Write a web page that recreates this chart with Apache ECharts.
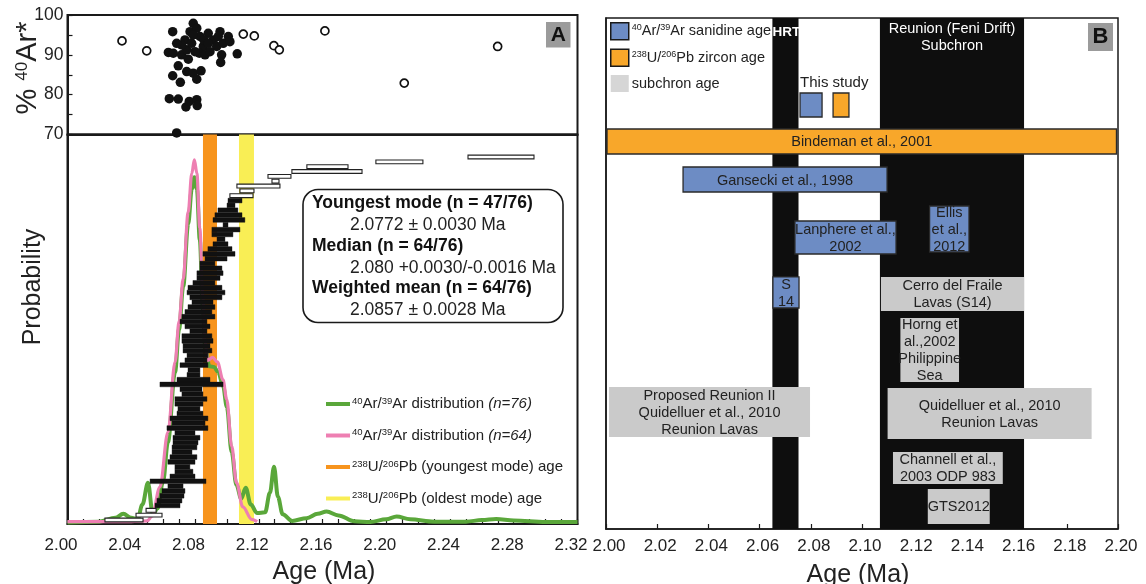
<!DOCTYPE html>
<html><head><meta charset="utf-8">
<script src="https://cdn.jsdelivr.net/npm/echarts@6/dist/echarts.min.js"></script>
<style>html,body{margin:0;padding:0;background:#fff}#c{width:1146px;height:584px}</style>
</head><body><div id="c"></div>
<script>
// ---------- Panel A, top: % 40Ar* of each crystal ----------
const usedAge = [2.0660,2.0633,2.0685,2.0660,2.0708,2.0695,2.0639,2.0695,2.0743,2.0764,2.0811,2.0814,2.0748,2.0789,2.0811,2.0838,2.0716,2.0748,2.0789,2.0769,2.0811,2.0737,2.0716,2.0779,2.0831,2.0852,2.0827,2.0863,2.0883,2.0915,2.0957,2.0936,2.0977,2.1009,2.1019,2.0967,2.0961,2.1065,2.0894,2.0856,2.0800,2.0758,2.0883,2.0789,2.0946,2.0685,2.0664];
const usedAr  = [95.8,90.6,70.4,84.75,83.1,87.25,79.0,78.9,76.9,78.3,78.75,77.25,85.8,85.4,83.9,86.0,90.0,91.25,97.9,95.8,96.7,93.75,92.5,92.9,94.6,92.1,90.4,90.0,95.4,93.75,95.8,92.1,92.9,94.6,93.3,90.0,88.1,90.25,90.8,93.75,90.8,88.9,92.9,95.0,94.6,92.9,90.4];
const exclAge = [2.0342,2.0497,2.1103,2.1172,2.1295,2.1329,2.1615,2.2113,2.2699];
const exclAr  = [93.5,91.0,95.2,94.75,92.3,91.25,96.0,82.9,92.1];

// ---------- Panel A, bottom: probability density curves ----------
const pdf76Age  = [2.000,2.020,2.030,2.035,2.040,2.044,2.047,2.0505,2.0535,2.0565,2.060,2.063,2.0675,2.0700,2.0726,2.0757,2.0780,2.0796,2.0812,2.0830,2.0850,2.0865,2.0890,2.0920,2.0945,2.0976,2.1000,2.1030,2.1060,2.1090,2.1118,2.1150,2.1190,2.1240,2.1270,2.1296,2.1320,2.1350,2.1410,2.1500,2.1570,2.1626,2.1700,2.1800,2.1900,2.2000,2.2065,2.2150,2.2300,2.2500,2.2600,2.2690,2.2800,2.3000,2.3200];
const pdf76Prob = [0.4,0.6,1.6,2.6,1.6,1.3,5.0,10.6,2.5,4.0,11.0,21.0,39.0,50.0,61.0,77.0,86.0,89.0,86.0,73.0,55.0,45.0,40.5,40.3,39.0,35.5,30.0,18.5,10.0,6.5,9.3,5.0,2.8,3.0,8.0,14.7,7.0,2.5,0.8,1.5,2.6,3.2,2.2,0.7,0.5,1.2,1.9,1.2,0.6,0.6,1.0,1.3,0.9,0.5,0.5];
const pdf64Age  = [2.000,2.020,2.040,2.050,2.053,2.058,2.063,2.0675,2.0700,2.0726,2.0757,2.0780,2.0796,2.0812,2.0830,2.0850,2.0862,2.0880,2.0910,2.0940,2.0976,2.0999,2.1030,2.1060,2.1100,2.1156,2.1190];
const pdf64Prob = [0.6,0.6,0.6,0.8,2.0,9.5,23.5,41.6,52.0,63.0,80.0,90.0,93.5,90.0,76.0,58.0,47.0,42.0,42.8,41.6,37.0,32.0,20.0,10.6,4.4,1.2,0.6];

// ---------- Panel A, bottom: rank-ordered single-crystal ages (2 sigma), youngest first ----------
const rankLow  = [2.0235,2.0430,2.0493,
 2.0549,2.0561,2.0580,2.0593,2.0630,2.0518,2.0643,2.0674,2.0674,2.0630,2.0643,2.0656,2.0656,2.0662,2.0662,2.0674,2.0624,2.0656,2.0643,2.0687,2.0693,2.0674,2.0674,2.0718,2.0706,2.0580,2.0687,2.0750,2.0756,2.0706,2.0737,2.0750,2.0725,2.0725,2.0718,2.0718,2.0768,2.0737,2.0706,2.0718,2.0737,2.0756,2.0781,2.0768,2.0750,2.0756,2.0787,2.0812,2.0812,2.0831,2.0831,2.0863,2.0850,2.0881,2.0913,2.0938,2.0906,2.0906,2.0976,2.0913,2.0925,2.0944,2.1001,2.1007,
 2.1019,2.1082,2.1063,2.1283,2.1258,2.1408,2.1502,2.1935,2.2513];
const rankHigh = [2.0474,2.0593,2.0556,
 2.0706,2.0718,2.0731,2.0737,2.0725,2.0869,2.0800,2.0787,2.0768,2.0800,2.0812,2.0781,2.0812,2.0819,2.0831,2.0800,2.0881,2.0863,2.0881,2.0850,2.0831,2.0850,2.0875,2.0850,2.0844,2.0976,2.0894,2.0831,2.0831,2.0881,2.0875,2.0881,2.0906,2.0894,2.0913,2.0906,2.0875,2.0894,2.0875,2.0925,2.0906,2.0925,2.0913,2.0969,2.0988,2.0969,2.0925,2.0957,2.0976,2.0969,2.0925,2.1001,2.1051,2.1032,2.1007,2.0988,2.1038,2.1082,2.1007,2.1113,2.1095,2.1069,2.1051,2.1095,
 2.1164,2.1170,2.1333,2.1327,2.1402,2.1848,2.1760,2.2230,2.2927];
const rankUsed = rankLow.map((v, i) => (i >= 3 && i <= 66) ? 1 : 0);

// ---------- Panel A: U/Pb zircon modes ----------
const uPbYoungest = [2.0850, 2.0938];
const uPbOldest   = [2.1076, 2.1170];
const ticksA = ['2.00','2.04','2.08','2.12','2.16','2.20','2.24','2.28','2.32'];

// ---------- Panel B ----------
const ticksB = ['2.00','2.02','2.04','2.06','2.08','2.10','2.12','2.14','2.16','2.18','2.20'];
const chronName = ['HRT', 'Reunion (Feni Drift)\nSubchron'];
const chronLow  = [2.0650, 2.1070];
const chronHigh = [2.0752, 2.1633];
// rows: 0 = top of panel, 100 = bottom
const arLabel = ['', 'Gansecki et al., 1998', 'Lanphere et al.,\n2002', 'Ellis\net al.,\n2012', 'S\n14'];
const arLow   = [2.0758, 2.0301, 2.0738, 2.1264, 2.0652];
const arHigh  = [2.0844, 2.1098, 2.1133, 2.1418, 2.0754];
const arTop   = [14.68, 29.16, 39.73, 36.79, 50.68];
const arBot   = [19.37, 34.05, 46.18, 45.79, 56.75];
const uLabel  = ['', 'Bindeman et al., 2001'];
const uLow    = [2.0887, 2.0004];
const uHigh   = [2.0949, 2.1994];
const uTop    = [14.68, 21.72];
const uBot    = [19.37, 26.61];
const scLabel = ['Cerro del Fraile\nLavas (S14)', 'Horng et\nal.,2002\nPhilippine\nSea', 'Proposed Reunion II\nQuidelluer et al., 2010\nReunion Lavas', 'Quidelluer et al., 2010\nReunion Lavas', 'Channell et al.,\n2003 ODP 983', 'GTS2012'];
const scLow   = [2.1074, 2.1150, 2.0012, 2.1100, 2.1121, 2.1257];
const scHigh  = [2.1633, 2.1379, 2.0797, 2.1897, 2.1550, 2.1499];
const scTop   = [50.68, 58.71, 72.21, 72.41, 84.93, 92.17];
const scBot   = [57.34, 71.23, 82.00, 82.39, 91.19, 99.02];
const noteText = ['This study'];
const noteAge  = [2.0758];
const noteRow  = [12.7];

// ================= chart =================
const FONT = "'Liberation Sans', Arial, Helvetica, sans-serif";
const INK = '#1a1a1a';
const C_GREEN = '#5aa73a', C_PINK = '#ee7fb2', C_ORANGE = '#f7941d', C_YELLOW = '#f9ee55';
const C_BLUE = '#6d8cc4', C_UO = '#f8a72a', C_GRAY = '#cacaca';

function richFor(size, supSize) {
  return {
    sup: {fontSize: supSize, fontFamily: FONT, color: '#222', verticalAlign: 'top', lineHeight: supSize + 1},
    it: {fontSize: size, fontFamily: FONT, color: '#222', fontStyle: 'italic'}
  };
}
const legendText = {
  '40Ar/39Ar distribution (n=76)': '{sup|40}Ar/{sup|39}Ar distribution {it|(n=76)}',
  '40Ar/39Ar distribution (n=64)': '{sup|40}Ar/{sup|39}Ar distribution {it|(n=64)}',
  '238U/206Pb (youngest mode) age': '{sup|238}U/{sup|206}Pb (youngest mode) age',
  '238U/206Pb (oldest mode) age': '{sup|238}U/{sup|206}Pb (oldest mode) age',
  '40Ar/39Ar sanidine age': '{sup|40}Ar/{sup|39}Ar sanidine age',
  '238U/206Pb zircon age': '{sup|238}U/{sup|206}Pb zircon age',
  'subchron age': 'subchron age'
};

function bandA(name, range, color) {
  return {
    type: 'custom', name, xAxisIndex: 1, yAxisIndex: 1, z: 1, color,
    itemStyle: {color},
    data: [range],
    encode: {x: [0, 1]},
    renderItem(params, api) {
      const a = api.coord([api.value(0), 100]);
      const b = api.coord([api.value(1), 0]);
      return {type: 'rect', shape: {x: a[0], y: a[1], width: b[0] - a[0], height: b[1] - a[1]}, style: {fill: color}};
    }
  };
}

function boxSeries(name, lo, hi, top, bot, labels, fill, stroke) {
  return {
    type: 'custom', name, xAxisIndex: 2, yAxisIndex: 3, z: 4, color: fill,
    itemStyle: {color: fill},
    data: lo.map((v, i) => [v, hi[i], top[i], bot[i]]),
    encode: {x: [0, 1], y: [2, 3]},
    renderItem(params, api) {
      const i = params.dataIndex;
      const a = api.coord([api.value(0), api.value(2)]);
      const b = api.coord([api.value(1), api.value(3)]);
      const children = [{type: 'rect', shape: {x: a[0], y: a[1], width: b[0] - a[0], height: b[1] - a[1]},
        style: stroke ? {fill, stroke, lineWidth: 1.3} : {fill}}];
      if (labels[i]) {
        children.push({type: 'text', x: (a[0] + b[0]) / 2, y: (a[1] + b[1]) / 2 + 1,
          style: {text: labels[i], fill: '#222', fontSize: 14.5, fontFamily: FONT, align: 'center', verticalAlign: 'middle', lineHeight: 17}});
      }
      return {type: 'group', children};
    }
  };
}

const option = {
  animation: false,
  backgroundColor: '#fff',
  grid: [
    {left: 67.5, top: 15, width: 510, height: 119.5, show: true, borderColor: INK, borderWidth: 2, outerBoundsMode: 'none', containLabel: false},
    {left: 67.5, top: 134.5, width: 510, height: 389.5, show: true, borderColor: INK, borderWidth: 2, outerBoundsMode: 'none', containLabel: false},
    {left: 606, top: 18, width: 512, height: 511, show: true, borderColor: INK, borderWidth: 1.5, outerBoundsMode: 'none', containLabel: false}
  ],
  xAxis: [
    {gridIndex: 0, type: 'value', min: 2.0, max: 2.32, interval: 0.04,
     axisLine: {show: true, onZero: false, lineStyle: {color: INK, width: 2}}, axisTick: {show: false}, axisLabel: {show: false}, splitLine: {show: false}},
    {gridIndex: 1, type: 'value', min: 2.0, max: 2.32, interval: 0.04,
     axisLine: {show: true, onZero: false, lineStyle: {color: INK, width: 2}},
     axisTick: {show: true, inside: true, length: 5, lineStyle: {color: INK, width: 1.2}},
     minorTick: {show: true, splitNumber: 4, length: 5, lineStyle: {color: INK, width: 1.2}},
     splitLine: {show: false}, minorSplitLine: {show: false},
     axisLabel: {fontSize: 17, color: '#222', fontFamily: FONT, margin: 13, padding: [0, 13, 0, 0],
       formatter: v => ticksA.find(t => Math.abs(parseFloat(t) - v) < 1e-6) || ''}},
    {gridIndex: 2, type: 'value', min: 2.0, max: 2.2, interval: 0.02,
     axisLine: {show: true, onZero: false, lineStyle: {color: INK, width: 1.5}},
     axisTick: {show: true, inside: true, length: 5, lineStyle: {color: INK, width: 1.2}},
     splitLine: {show: false},
     axisLabel: {fontSize: 17, color: '#222', fontFamily: FONT, margin: 9, padding: [0, 0, 0, 6],
       formatter: v => ticksB.find(t => Math.abs(parseFloat(t) - v) < 1e-6) || ''}}
  ],
  yAxis: [
    {gridIndex: 0, type: 'value', min: 70, max: 100, interval: 10,
     axisLine: {show: true, onZero: false, lineStyle: {color: INK, width: 2}},
     axisTick: {show: true, inside: true, length: 5, lineStyle: {color: INK, width: 1.2}},
     minorTick: {show: true, splitNumber: 2, length: 5, lineStyle: {color: INK, width: 1.2}},
     splitLine: {show: false}, minorSplitLine: {show: false},
     axisLabel: {fontSize: 17.5, color: '#222', fontFamily: FONT, margin: 4}},
    {gridIndex: 1, type: 'value', min: 0, max: 100,
     axisLine: {show: true, onZero: false, lineStyle: {color: INK, width: 2}}, axisTick: {show: false}, axisLabel: {show: false}, splitLine: {show: false}},
    {gridIndex: 1, type: 'value', min: -0.83, max: 79.65, show: false},
    {gridIndex: 2, type: 'value', min: 0, max: 100, inverse: true,
     axisLine: {show: true, onZero: false, lineStyle: {color: INK, width: 1.5}}, axisTick: {show: false}, axisLabel: {show: false}, splitLine: {show: false}}
  ],
  legend: [
    {left: 326, top: 396, padding: 0, orient: 'vertical', icon: 'rect', itemWidth: 24, itemHeight: 4, itemGap: 15.5, selectedMode: false,
     data: ['40Ar/39Ar distribution (n=76)', '40Ar/39Ar distribution (n=64)', '238U/206Pb (youngest mode) age', '238U/206Pb (oldest mode) age'],
     formatter: n => legendText[n] || n,
     textStyle: {fontSize: 15, fontFamily: FONT, color: '#222', lineHeight: 16, padding: [0, 0, 0, -3], rich: richFor(15, 9.5)}},
    {left: 610, top: 22, padding: 0, orient: 'vertical', icon: 'rect', itemWidth: 18, itemHeight: 17, itemGap: 8, selectedMode: false,
     data: [{name: '40Ar/39Ar sanidine age', itemStyle: {borderColor: INK, borderWidth: 1.5}},
            {name: '238U/206Pb zircon age', itemStyle: {borderColor: INK, borderWidth: 1.5}},
            {name: 'subchron age', itemStyle: {borderWidth: 0, color: '#d6d6d6'}}],
     formatter: n => legendText[n] || n,
     textStyle: {fontSize: 14.5, fontFamily: FONT, color: '#222', lineHeight: 16, padding: [0, 0, 0, -2], rich: richFor(14.5, 9)}}
  ],
  series: [
    bandA('238U/206Pb (youngest mode) age', uPbYoungest, C_ORANGE),
    bandA('238U/206Pb (oldest mode) age', uPbOldest, C_YELLOW),
    {type: 'line', name: '40Ar/39Ar distribution (n=76)', xAxisIndex: 1, yAxisIndex: 1, z: 2, color: C_GREEN,
     data: pdf76Age.map((a, i) => [a, pdf76Prob[i]]), showSymbol: false, smooth: 0.35, smoothMonotone: 'x',
     lineStyle: {color: C_GREEN, width: 4}, itemStyle: {color: C_GREEN}},
    {type: 'line', name: '40Ar/39Ar distribution (n=64)', xAxisIndex: 1, yAxisIndex: 1, z: 2, color: C_PINK,
     data: pdf64Age.map((a, i) => [a, pdf64Prob[i]]), showSymbol: false, smooth: 0.35, smoothMonotone: 'x',
     lineStyle: {color: C_PINK, width: 3.2}, itemStyle: {color: C_PINK}},
    {type: 'custom', name: 'ranked ages', xAxisIndex: 1, yAxisIndex: 2, z: 3,
     data: rankLow.map((v, i) => [v, rankHigh[i], i]),
     encode: {x: [0, 1], y: 2},
     renderItem(params, api) {
       const i = params.dataIndex;
       const a = api.coord([api.value(0), api.value(2)]);
       const b = api.coord([api.value(1), api.value(2)]);
       const used = rankUsed[i];
       const h = used ? 4.7 : 3.8;
       return {type: 'rect', shape: {x: a[0], y: a[1] - h / 2, width: b[0] - a[0], height: h},
         style: used ? {fill: '#111', stroke: '#111', lineWidth: 0.4} : {fill: '#fff', stroke: '#222', lineWidth: 1.1}};
     }},
    {type: 'scatter', name: 'included', xAxisIndex: 0, yAxisIndex: 0, z: 3, symbol: 'circle', symbolSize: 9.5,
     data: usedAge.map((a, i) => [a, usedAr[i]]), itemStyle: {color: '#111', opacity: 1}},
    {type: 'scatter', name: 'excluded', xAxisIndex: 0, yAxisIndex: 0, z: 3, symbol: 'circle', symbolSize: 8,
     data: exclAge.map((a, i) => [a, exclAr[i]]), itemStyle: {color: '#fff', borderColor: '#111', borderWidth: 1.7, opacity: 1}},
    {type: 'custom', name: 'subchrons', xAxisIndex: 2, yAxisIndex: 3, z: 2,
     data: chronLow.map((v, i) => [v, chronHigh[i]]),
     encode: {x: [0, 1]},
     renderItem(params, api) {
       const i = params.dataIndex;
       const a = api.coord([api.value(0), 0]);
       const b = api.coord([api.value(1), 100]);
       const bold = i === 0;
       return {type: 'group', children: [
         {type: 'rect', shape: {x: a[0], y: a[1], width: b[0] - a[0], height: b[1] - a[1]}, style: {fill: '#0e0e0e'}},
         {type: 'text', x: (a[0] + b[0]) / 2 + (bold ? 1 : 0), y: a[1] + (bold ? 6 : 2), z2: 10,
          style: {text: chronName[i], fill: '#fff', fontSize: bold ? 13.5 : 14.5, fontWeight: bold ? 'bold' : 'normal', fontFamily: FONT, align: 'center', verticalAlign: 'top', lineHeight: 17}}
       ]};
     }},
    boxSeries('40Ar/39Ar sanidine age', arLow, arHigh, arTop, arBot, arLabel, C_BLUE, '#2a2a2a'),
    boxSeries('238U/206Pb zircon age', uLow, uHigh, uTop, uBot, uLabel, C_UO, '#2a2a2a'),
    boxSeries('subchron age', scLow, scHigh, scTop, scBot, scLabel, C_GRAY, null),
    {type: 'custom', name: 'notes', xAxisIndex: 2, yAxisIndex: 3, z: 5,
     data: noteAge.map((v, i) => [v, noteRow[i]]),
     encode: {x: 0, y: 1},
     renderItem(params, api) {
       const p = api.coord([api.value(0), api.value(1)]);
       return {type: 'text', x: p[0], y: p[1], style: {text: noteText[params.dataIndex], fill: '#222', fontSize: 15, fontFamily: FONT, align: 'left', verticalAlign: 'middle'}};
     }}
  ],
  graphic: [
    {type: 'text', x: 28, y: 68, rotation: Math.PI / 2, z: 100,
     style: {text: '% {sup|40}Ar*', fill: '#222', fontSize: 29, fontFamily: FONT, align: 'center', verticalAlign: 'middle',
             rich: {sup: {fontSize: 17, fontFamily: FONT, fill: '#222', verticalAlign: 'top'}}}},
    {type: 'text', x: 33, y: 287, rotation: Math.PI / 2, z: 100,
     style: {text: 'Probability', fill: '#222', fontSize: 25, fontFamily: FONT, align: 'center', verticalAlign: 'middle'}},
    {type: 'text', x: 324, y: 572, z: 100,
     style: {text: 'Age (Ma)', fill: '#222', fontSize: 25, fontFamily: FONT, align: 'center', verticalAlign: 'middle'}},
    {type: 'text', x: 858, y: 575, z: 100,
     style: {text: 'Age (Ma)', fill: '#222', fontSize: 25, fontFamily: FONT, align: 'center', verticalAlign: 'middle'}},
    {type: 'rect', z: 100, shape: {x: 303, y: 189.5, width: 260, height: 133, r: 15}, style: {fill: '#fff', stroke: INK, lineWidth: 1.6}},
    {type: 'text', x: 312, y: 203.5, z: 101, style: {text: 'Youngest mode (n = 47/76)', fill: '#111', fontSize: 17.5, fontWeight: 'bold', fontFamily: FONT, verticalAlign: 'middle'}},
    {type: 'text', x: 350, y: 225, z: 101, style: {text: '2.0772 ± 0.0030 Ma', fill: '#222', fontSize: 17.5, fontFamily: FONT, verticalAlign: 'middle'}},
    {type: 'text', x: 312, y: 246.3, z: 101, style: {text: 'Median (n = 64/76)', fill: '#111', fontSize: 17.5, fontWeight: 'bold', fontFamily: FONT, verticalAlign: 'middle'}},
    {type: 'text', x: 350, y: 267.7, z: 101, style: {text: '2.080 +0.0030/-0.0016 Ma', fill: '#222', fontSize: 17.5, fontFamily: FONT, verticalAlign: 'middle'}},
    {type: 'text', x: 312, y: 288.5, z: 101, style: {text: 'Weighted mean (n = 64/76)', fill: '#111', fontSize: 17.5, fontWeight: 'bold', fontFamily: FONT, verticalAlign: 'middle'}},
    {type: 'text', x: 350, y: 310, z: 101, style: {text: '2.0857 ± 0.0028 Ma', fill: '#222', fontSize: 17.5, fontFamily: FONT, verticalAlign: 'middle'}},
    {type: 'rect', z: 100, shape: {x: 546, y: 22, width: 24.5, height: 25.5}, style: {fill: '#9b9b9b'}},
    {type: 'text', x: 558.3, y: 35, z: 101, style: {text: 'A', fill: '#111', fontSize: 21, fontWeight: 'bold', fontFamily: FONT, align: 'center', verticalAlign: 'middle'}},
    {type: 'rect', z: 100, shape: {x: 1088, y: 23, width: 25, height: 28}, style: {fill: '#9b9b9b'}},
    {type: 'text', x: 1100.5, y: 37, z: 101, style: {text: 'B', fill: '#111', fontSize: 22, fontWeight: 'bold', fontFamily: FONT, align: 'center', verticalAlign: 'middle'}}
  ]
};

const chart = echarts.init(document.getElementById('c'), null, {renderer: 'canvas'});
chart.setOption(option);
</script>
</body></html>
